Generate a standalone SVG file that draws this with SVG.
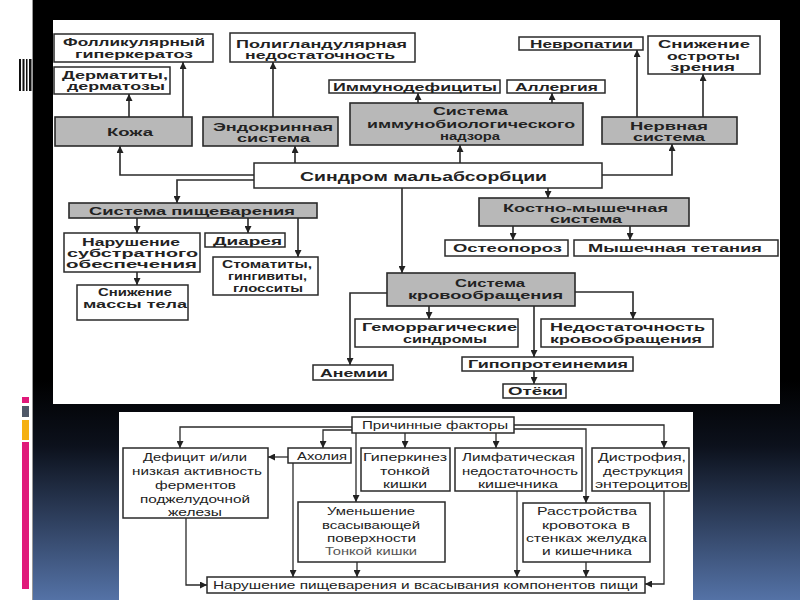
<svg xmlns="http://www.w3.org/2000/svg" width="800" height="600" viewBox="0 0 800 600">
<defs>
<linearGradient id="bg" x1="0" y1="0" x2="0" y2="1" gradientUnits="objectBoundingBox">
<stop offset="0" stop-color="#000"/>
<stop offset="0.3" stop-color="#0c111c"/>
<stop offset="1" stop-color="#5472a6"/>
</linearGradient>
<marker id="ar" viewBox="0 0 8 8" refX="8" refY="4" markerWidth="7" markerHeight="7" markerUnits="userSpaceOnUse" orient="auto">
<path d="M0,0 L8,4 L0,8 z" fill="#222"/>
</marker>
<style>
.b{fill:#fff;stroke:#2a2a2a;stroke-width:1.5}
.g{fill:#b8b8b8;stroke:#2a2a2a;stroke-width:1.6}
.t{font-family:"Liberation Sans",Arial,sans-serif;font-size:10.5px;font-weight:bold;fill:#222;text-anchor:middle}
.u{font-family:"Liberation Sans",Arial,sans-serif;font-size:11.5px;fill:#222;text-anchor:middle}
.c{fill:none;stroke:#2a2a2a;stroke-width:1.6;marker-end:url(#ar)}
.d{fill:none;stroke:#2a2a2a;stroke-width:1.3;marker-end:url(#ar)}
</style>
</defs>
<!-- background -->
<rect x="0" y="0" width="800" height="600" fill="#000"/>
<rect x="32" y="380" width="768" height="220" fill="url(#bg)"/>
<rect x="0" y="0" width="32" height="600" fill="#fff"/>
<line x1="32.5" y1="0" x2="32.5" y2="600" stroke="#999" stroke-width="1"/>
<g id="barcode" fill="#111">
<rect x="19" y="59" width="2" height="32"/>
<rect x="22.5" y="59" width="2" height="32"/>
<rect x="26" y="59" width="1.5" height="32"/>
<rect x="29" y="59" width="2.5" height="32"/>
</g>
<g id="sidebars">
<rect x="22" y="397" width="7" height="6" fill="#e0197a"/>
<rect x="22" y="406" width="7" height="11" fill="#4f5868"/>
<rect x="22" y="420" width="7" height="20" fill="#f5b00f"/>
<rect x="22" y="442" width="7" height="147" fill="#e0197a"/>
</g>
<rect x="53" y="20" width="727" height="384" fill="#fff"/>
<rect x="119" y="412" width="574" height="188" fill="#fff"/>

<!-- top connectors -->
<g id="connectors-top">
<path class="c" d="M129,117 V94"/>
<path class="c" d="M183,117 V62"/>
<path class="c" d="M273,117 V62"/>
<path class="c" d="M418,103 V93"/>
<path class="c" d="M552,103 V93"/>
<path class="c" d="M637,117 V50"/>
<path class="c" d="M703,117 V74"/>
<path class="c" d="M254,175 H120 V146"/>
<path class="c" d="M295,163 V146"/>
<path class="c" d="M460,163 V145"/>
<path class="c" d="M602,175 H672 V144"/>
<path class="c" d="M254,180 H177 V203"/>
<path class="c" d="M548,188 V198"/>
<path class="c" d="M402,188 V273"/>
<path class="c" d="M137,218 V233"/>
<path class="c" d="M248,218 V233"/>
<path class="c" d="M298,218 V257"/>
<path class="c" d="M137,272 V285"/>
<path class="c" d="M513,226 V240"/>
<path class="c" d="M630,226 V240"/>
<path class="c" d="M387,293 H350 V365"/>
<path class="c" d="M429,306 V319"/>
<path class="c" d="M534,306 V357"/>
<path class="c" d="M575,292 H633 V319"/>
<path class="c" d="M534,371 V384"/>
</g>

<!-- top nodes -->
<g id="folliculyarny">
<rect class="b" x="54" y="34" width="159" height="28"/>
<text class="t" x="134" y="46" textLength="142" lengthAdjust="spacingAndGlyphs">Фолликулярный</text>
<text class="t" x="134" y="57.5" textLength="118" lengthAdjust="spacingAndGlyphs">гиперкератоз</text>
</g>
<g id="dermatity">
<rect class="b" x="54" y="67" width="116" height="27"/>
<text class="t" x="115" y="79" textLength="106" lengthAdjust="spacingAndGlyphs">Дерматиты,</text>
<text class="t" x="116" y="90" textLength="98" lengthAdjust="spacingAndGlyphs">дерматозы</text>
</g>
<g id="kozha">
<rect class="g" x="55" y="117" width="137" height="29"/>
<text class="t" x="130" y="136" textLength="46" lengthAdjust="spacingAndGlyphs">Кожа</text>
</g>
<g id="poliglandular">
<rect class="b" x="230" y="33" width="185" height="29"/>
<text class="t" x="321.5" y="47.5" textLength="171" lengthAdjust="spacingAndGlyphs">Полигландулярная</text>
<text class="t" x="320" y="59" textLength="150" lengthAdjust="spacingAndGlyphs">недостаточность</text>
</g>
<g id="endokrin">
<rect class="g" x="203" y="117" width="135" height="29"/>
<text class="t" x="273" y="131" textLength="120" lengthAdjust="spacingAndGlyphs">Эндокринная</text>
<text class="t" x="273.5" y="142" textLength="73" lengthAdjust="spacingAndGlyphs">система</text>
</g>
<g id="sindrom">
<rect class="b" x="254" y="163" width="348" height="25"/>
<text class="t" x="423.5" y="181" textLength="247" lengthAdjust="spacingAndGlyphs" style="font-size:12.5px;font-weight:900">Синдром мальабсорбции</text>
</g>
<g id="immunodef">
<rect class="b" x="329" y="80" width="171" height="13"/>
<text class="t" x="415" y="90.5" textLength="164" lengthAdjust="spacingAndGlyphs">Иммунодефициты</text>
</g>
<g id="allergia">
<rect class="b" x="507" y="80" width="98" height="13"/>
<text class="t" x="556.5" y="90.5" textLength="83" lengthAdjust="spacingAndGlyphs">Аллергия</text>
</g>
<g id="immuno">
<rect class="g" x="350" y="103" width="233" height="42"/>
<text class="t" x="470.5" y="115" textLength="75" lengthAdjust="spacingAndGlyphs">Система</text>
<text class="t" x="471" y="127.5" textLength="208" lengthAdjust="spacingAndGlyphs">иммунобиологического</text>
<text class="t" x="470" y="140" textLength="60" lengthAdjust="spacingAndGlyphs">надзора</text>
</g>
<g id="nevropatii">
<rect class="b" x="519" y="37" width="124" height="13"/>
<text class="t" x="581.5" y="47.5" textLength="103" lengthAdjust="spacingAndGlyphs">Невропатии</text>
</g>
<g id="zrenie">
<rect class="b" x="648" y="36" width="112" height="38"/>
<text class="t" x="704" y="47.5" textLength="92" lengthAdjust="spacingAndGlyphs">Снижение</text>
<text class="t" x="703.5" y="59.5" textLength="73" lengthAdjust="spacingAndGlyphs">остроты</text>
<text class="t" x="702.5" y="71" textLength="65" lengthAdjust="spacingAndGlyphs">зрения</text>
</g>
<g id="nervnaya">
<rect class="g" x="602" y="117" width="135" height="27"/>
<text class="t" x="669" y="129.5" textLength="78" lengthAdjust="spacingAndGlyphs">Нервная</text>
<text class="t" x="669" y="141" textLength="72" lengthAdjust="spacingAndGlyphs">система</text>
</g>
<g id="pishevarenie">
<rect class="g" x="69" y="203" width="248" height="15"/>
<text class="t" x="192" y="214.5" textLength="206" lengthAdjust="spacingAndGlyphs">Система пищеварения</text>
</g>
<g id="substrat">
<rect class="b" x="64" y="233" width="136" height="39"/>
<text class="t" x="131" y="246" textLength="98" lengthAdjust="spacingAndGlyphs">Нарушение</text>
<text class="t" x="132.5" y="257" textLength="131" lengthAdjust="spacingAndGlyphs">субстратного</text>
<text class="t" x="131.5" y="268" textLength="131" lengthAdjust="spacingAndGlyphs">обеспечения</text>
</g>
<g id="diareya">
<rect class="b" x="205" y="233" width="80" height="14"/>
<text class="t" x="247.5" y="244.5" textLength="69" lengthAdjust="spacingAndGlyphs">Диарея</text>
</g>
<g id="stomatity">
<rect class="b" x="213" y="257" width="105" height="38"/>
<text class="t" x="267" y="268" textLength="90" lengthAdjust="spacingAndGlyphs">Стоматиты,</text>
<text class="t" x="267.5" y="280" textLength="79" lengthAdjust="spacingAndGlyphs">гингивиты,</text>
<text class="t" x="268" y="292" textLength="70" lengthAdjust="spacingAndGlyphs">глосситы</text>
</g>
<g id="massa">
<rect class="b" x="77" y="285" width="111" height="35"/>
<text class="t" x="135" y="296" textLength="74" lengthAdjust="spacingAndGlyphs">Снижение</text>
<text class="t" x="135" y="308" textLength="104" lengthAdjust="spacingAndGlyphs">массы тела</text>
</g>
<g id="anemii">
<rect class="b" x="313" y="365" width="80" height="15"/>
<text class="t" x="354" y="376.5" textLength="68" lengthAdjust="spacingAndGlyphs">Анемии</text>
</g>
<g id="kostno">
<rect class="g" x="479" y="198" width="210" height="28"/>
<text class="t" x="585.5" y="211.5" textLength="165" lengthAdjust="spacingAndGlyphs">Костно-мышечная</text>
<text class="t" x="586" y="223" textLength="72" lengthAdjust="spacingAndGlyphs">система</text>
</g>
<g id="osteoporoz">
<rect class="b" x="445" y="240" width="123" height="16"/>
<text class="t" x="507.5" y="252" textLength="109" lengthAdjust="spacingAndGlyphs">Остеопороз</text>
</g>
<g id="tetaniya">
<rect class="b" x="574" y="240" width="204" height="16"/>
<text class="t" x="675" y="252" textLength="174" lengthAdjust="spacingAndGlyphs">Мышечная тетания</text>
</g>
<g id="krovoobr">
<rect class="g" x="387" y="273" width="188" height="33"/>
<text class="t" x="490" y="286.5" textLength="70" lengthAdjust="spacingAndGlyphs">Система</text>
<text class="t" x="485.5" y="298.5" textLength="155" lengthAdjust="spacingAndGlyphs">кровообращения</text>
</g>
<g id="gemorragich">
<rect class="b" x="355" y="319" width="163" height="28"/>
<text class="t" x="439.5" y="331" textLength="155" lengthAdjust="spacingAndGlyphs">Геморрагические</text>
<text class="t" x="445" y="343" textLength="84" lengthAdjust="spacingAndGlyphs">синдромы</text>
</g>
<g id="nedost-krov">
<rect class="b" x="541" y="319" width="172" height="28"/>
<text class="t" x="627.5" y="331" textLength="155" lengthAdjust="spacingAndGlyphs">Недостаточность</text>
<text class="t" x="626" y="343" textLength="152" lengthAdjust="spacingAndGlyphs">кровообращения</text>
</g>
<g id="gipoprotein">
<rect class="b" x="462" y="357" width="171" height="14"/>
<text class="t" x="548" y="368" textLength="160" lengthAdjust="spacingAndGlyphs">Гипопротеинемия</text>
</g>
<g id="oteki">
<rect class="b" x="503" y="384" width="63" height="14"/>
<text class="t" x="535.5" y="395" textLength="55" lengthAdjust="spacingAndGlyphs">Отёки</text>
</g>

<!-- bottom connectors -->
<g id="connectors-bottom">
<path class="d" d="M352,427 H180 V448"/>
<path class="d" d="M352,430 H323 V448"/>
<path class="d" d="M356,433 V502"/>
<path class="d" d="M405,433 V448"/>
<path class="d" d="M496,433 V448"/>
<path class="d" d="M514,425 H664 V448"/>
<path class="d" d="M514,429 H586 V503"/>
<path class="d" d="M288,457 H268"/>
<path class="d" d="M293,463 V577"/>
<path class="d" d="M357,562 V577"/>
<path class="d" d="M517,491 V577"/>
<path class="d" d="M586,562 V577"/>
<path class="d" d="M186,518 V585 H207"/>
<path class="d" d="M664,491 V584 H645"/>
</g>

<!-- bottom nodes -->
<g id="prichiny">
<rect class="b" x="352" y="417" width="162" height="16"/>
<text class="u" x="435" y="429" textLength="146" lengthAdjust="spacingAndGlyphs">Причинные факторы</text>
</g>
<g id="deficit">
<rect class="b" x="123" y="448" width="145" height="70"/>
<text class="u" x="195" y="461" textLength="104" lengthAdjust="spacingAndGlyphs">Дефицит и/или</text>
<text class="u" x="197" y="475" textLength="130" lengthAdjust="spacingAndGlyphs">низкая активность</text>
<text class="u" x="195.5" y="489" textLength="81" lengthAdjust="spacingAndGlyphs">ферментов</text>
<text class="u" x="195" y="503" textLength="110" lengthAdjust="spacingAndGlyphs">поджелудочной</text>
<text class="u" x="195" y="516" textLength="54" lengthAdjust="spacingAndGlyphs">железы</text>
</g>
<g id="aholiya">
<rect class="b" x="288" y="448" width="63" height="15"/>
<text class="u" x="322" y="460" textLength="50" lengthAdjust="spacingAndGlyphs">Ахолия</text>
</g>
<g id="giperkinez">
<rect class="b" x="361" y="448" width="89" height="43"/>
<text class="u" x="405" y="461" textLength="84" lengthAdjust="spacingAndGlyphs">Гиперкинез</text>
<text class="u" x="405" y="475" textLength="50" lengthAdjust="spacingAndGlyphs">тонкой</text>
<text class="u" x="405" y="488" textLength="44" lengthAdjust="spacingAndGlyphs">кишки</text>
</g>
<g id="limfatich">
<rect class="b" x="455" y="448" width="127" height="43"/>
<text class="u" x="518.5" y="461" textLength="113" lengthAdjust="spacingAndGlyphs">Лимфатическая</text>
<text class="u" x="520" y="475" textLength="116" lengthAdjust="spacingAndGlyphs">недостаточность</text>
<text class="u" x="518" y="488" textLength="80" lengthAdjust="spacingAndGlyphs">кишечника</text>
</g>
<g id="distrofiya">
<rect class="b" x="592" y="448" width="97" height="43"/>
<text class="u" x="642" y="461" textLength="88" lengthAdjust="spacingAndGlyphs">Дистрофия,</text>
<text class="u" x="643" y="475" textLength="80" lengthAdjust="spacingAndGlyphs">деструкция</text>
<text class="u" x="641.5" y="488" textLength="93" lengthAdjust="spacingAndGlyphs">энтероцитов</text>
</g>
<g id="umenshenie">
<rect class="b" x="298" y="502" width="147" height="60"/>
<text class="u" x="371" y="515" textLength="88" lengthAdjust="spacingAndGlyphs">Уменьшение</text>
<text class="u" x="371" y="529" textLength="98" lengthAdjust="spacingAndGlyphs">всасывающей</text>
<text class="u" x="371.5" y="542" textLength="89" lengthAdjust="spacingAndGlyphs">поверхности</text>
<text class="u" x="371" y="555" textLength="92" lengthAdjust="spacingAndGlyphs" style="font-size:10.5px;fill:#555">Тонкой кишки</text>
</g>
<g id="rasstroystva">
<rect class="b" x="523" y="503" width="127" height="59"/>
<text class="u" x="587" y="515" textLength="100" lengthAdjust="spacingAndGlyphs">Расстройства</text>
<text class="u" x="586" y="529" textLength="88" lengthAdjust="spacingAndGlyphs">кровотока в</text>
<text class="u" x="586.5" y="542" textLength="121" lengthAdjust="spacingAndGlyphs">стенках желудка</text>
<text class="u" x="587" y="555" textLength="90" lengthAdjust="spacingAndGlyphs">и кишечника</text>
</g>
<g id="narushenie">
<rect class="b" x="207" y="577" width="438" height="16"/>
<text class="u" x="425.5" y="589" textLength="425" lengthAdjust="spacingAndGlyphs">Нарушение пищеварения и всасывания компонентов пищи</text>
</g>
</svg>
